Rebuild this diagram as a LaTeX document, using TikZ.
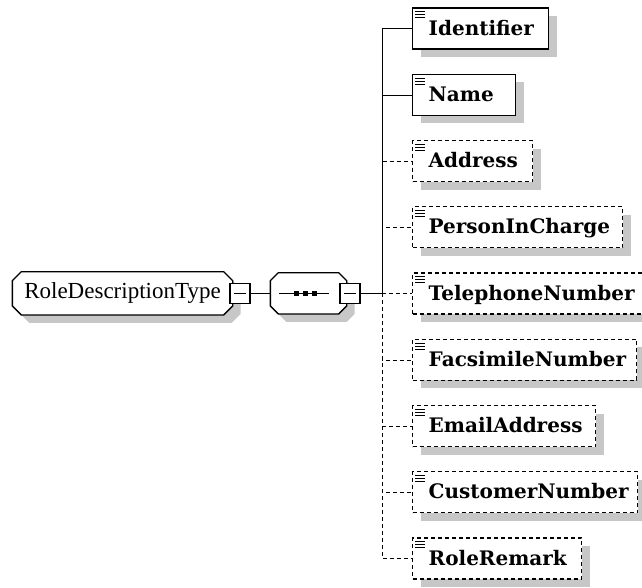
\documentclass[tikz,border=0pt]{standalone}
\usepackage{fontspec}
\newfontfamily\elemfont{DejaVu Serif}
\newfontfamily\typefont{Liberation Serif}
\usetikzlibrary{shadows}
\usetikzlibrary{calc}

\pgfdeclarelayer{bg}
\pgfsetlayers{bg,main}

\newcommand\octpath[2]{($(#1.north west)+(#2,0)$) -- ($(#1.north east)+(-#2,0)$)
    -- ($(#1.north east)+(0,#2)$) -- ($(#1.south east)+(0,-#2)$)
    -- ($(#1.south east)+(-#2,0)$) -- ($(#1.south west)+(#2,0)$)
    -- ($(#1.south west)+(0,-#2)$) -- ($(#1.north west)+(0,#2)$) -- cycle}

\tikzset{
    grayshadow/.style={drop shadow={shadow xshift=8pt,shadow yshift=-8pt,fill=black!22,opacity=1}},
    octa/.style={inner sep=0pt},
    octline/.style={draw=black, fill=white, line width=1.3pt},
    minusbox/.style={draw, fill=white, line width=1.3pt, minimum size=20pt, inner sep=0pt,
        path picture={\draw[line width=1.3pt] ([xshift=4pt]path picture bounding box.west)
            -- ([xshift=-4pt]path picture bounding box.east);}},
    elem/.style={draw, fill=white, line width=1.4pt, anchor=west, minimum height=41pt,
        inner xsep=16pt, inner ysep=0pt, text height=13pt, text depth=0pt, align=left,
        font=\elemfont\bfseries\fontsize{20}{24}\selectfont, grayshadow},
    reqbox/.style={elem},
    optbox/.style={elem, dash pattern=on 4pt off 3pt},
    optline/.style={dash pattern=on 4pt off 3pt},
    icon/.style={line width=1pt}
}

\begin{document}
\begin{tikzpicture}[x=1pt,y=-1pt,line width=1.3pt]
    \useasboundingbox (0,0) rectangle (642,587);

    \node[octa, minimum width=219pt, minimum height=42pt,
        font=\typefont\fontsize{23}{27}\selectfont] (root) at (122.5,293.3) {RoleDescriptionType};
    \node[minusbox] (rmin) at (240,293.3) {};
    \node[octa, minimum width=75pt, minimum height=40pt] (seq) at (308.5,293.3) {};
    \node[minusbox] (smin) at (350,293.3) {};
    \draw (rmin.east) -- (seq.west);

    \begin{pgfonlayer}{bg}
        \foreach \n/\c in {root/9,seq/8} {
            \fill[black!22, transform canvas={xshift=8pt,yshift=-8pt}] \octpath{\n}{\c};
            \path[octline] \octpath{\n}{\c};
        }
    \end{pgfonlayer}

    \draw ($(seq.west)+(9,0)$) -- ($(seq.west)+(59,0)$);
    \foreach \d in {26,35,44}
        \fill ($(seq.west)+(\d,0)$) ++(-2.5,-2.5) rectangle ++(5,5);

    \coordinate (jn) at (382,293.3);
    \draw (smin.east) -- (jn);

    \foreach \nm/\txt/\w/\sty/\ln [count=\i] in {
        idf/Identifier/104/reqbox/solid,
        nam/Name/71/reqbox/solid,
        adr/Address/88/optbox/optline,
        pic/PersonInCharge/178/optbox/optline,
        tel/TelephoneNumber/202/optbox/optline,
        fax/FacsimileNumber/192/optbox/optline,
        eml/EmailAddress/151/optbox/optline,
        cst/CustomerNumber/193/optbox/optline,
        rmk/RoleRemark/137/optbox/optline} {
        \node[\sty, text width=\w pt] (\nm) at (412,{28.5+66.25*(\i-1)}) {\txt};
        \foreach \d in {4.5,7.5,10.5}
            \draw[icon] ($(\nm.north west)+(3,\d)$) -- ++(10,0);
        \draw[\ln] (jn) |- (\nm.west);
    }
\end{tikzpicture}
\end{document}
